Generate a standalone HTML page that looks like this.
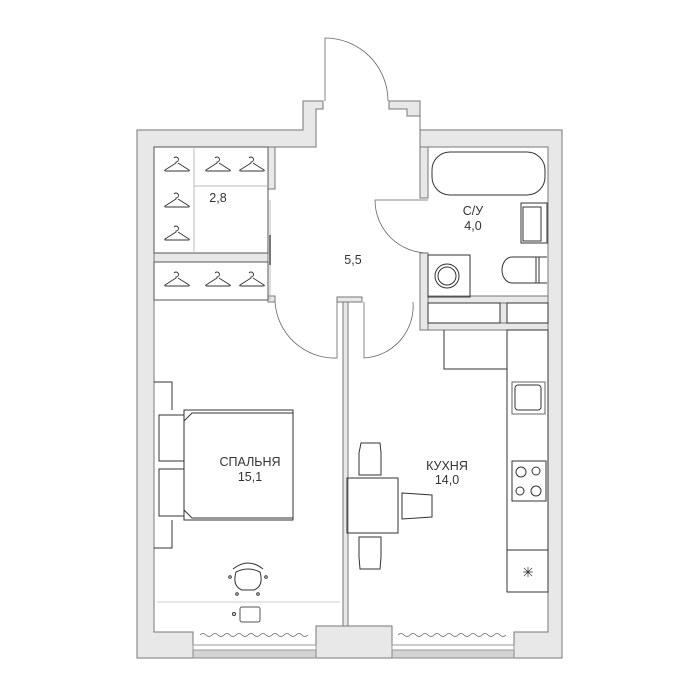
<!DOCTYPE html>
<html><head><meta charset="utf-8"><style>
html,body{margin:0;padding:0;background:#fff;}
svg{display:block;}
text{font-family:"Liberation Sans","DejaVu Sans",sans-serif;font-size:12.5px;fill:#333;text-anchor:middle;}
</style></head><body>
<svg width="700" height="700" viewBox="0 0 700 700" xmlns="http://www.w3.org/2000/svg">
<g fill="#e8e8e8" stroke="#777" stroke-width="1">
<path d="M137,130 H303 V101 H323 V109 H316 V147 H154 V632 H193 V658 H137 Z"/>
<path d="M389,101 H420 V130 H562 V658 H514 V632 H548 V147 H420 V116 H407 V109 H389 Z" />
<rect x="316" y="626" width="76" height="32"/>
<rect x="420" y="147" width="8" height="51"/>
<rect x="420" y="253" width="8" height="77"/>
<rect x="428" y="296" width="120" height="7"/>
<rect x="428" y="323" width="120" height="7"/>
<rect x="500" y="303" width="7" height="20"/>
<rect x="268" y="147" width="7" height="42"/>
<rect x="154" y="253" width="114" height="9"/>
<rect x="268" y="296" width="7" height="6"/>
<rect x="343" y="302" width="5" height="324"/>
<rect x="337" y="297" width="25" height="5"/>
</g>
<g fill="#d4d4d4" stroke="#888" stroke-width="1">
<rect x="193" y="645" width="123" height="13"/>
<rect x="392" y="645" width="122" height="13"/>
</g>
<g fill="#fff" stroke="#999" stroke-width="1">
<rect x="193" y="645" width="123" height="5"/><rect x="392" y="645" width="122" height="5"/>
</g>
<g fill="none" stroke="#666" stroke-width="0.8">
<path d="M200,635 q3,-3 6,0 t6,0 t6,0 t6,0 t6,0 t6,0 t6,0 t6,0 t6,0 t6,0 t6,0 t6,0 t6,0 t6,0 t6,0 t6,0 t6,0 t6,0"/>
<path d="M398,635 q3,-3 6,0 t6,0 t6,0 t6,0 t6,0 t6,0 t6,0 t6,0 t6,0 t6,0 t6,0 t6,0 t6,0 t6,0 t6,0 t6,0 t6,0 t6,0"/>
<path d="M325,101 V38 A63,63 0 0 1 388,101"/>
<path d="M428,200 H375 A53,53 0 0 0 428,253"/>
<path d="M275,302 A60,60 0 0 0 337,358 V302"/>
<path d="M413,302 A52,52 0 0 1 364,358 V302"/>
</g>
<g fill="none" stroke="#333" stroke-width="1">
<rect x="154" y="147" width="114" height="106" stroke="#555"/>
<line x1="194" y1="147" x2="194" y2="253" stroke="#bbb"/>
<line x1="194" y1="186" x2="268" y2="186" stroke="#bbb"/>
<rect x="154" y="262" width="114" height="38" stroke="#555"/>
<line x1="270" y1="235" x2="270" y2="265" stroke="#333" stroke-width="2"/>
<line x1="270" y1="200" x2="270" y2="300" stroke="#bbb"/>
<rect x="432" y="152" width="113" height="43" rx="18"/>
<rect x="521" y="203" width="26" height="40"/>
<rect x="523" y="207" width="18" height="34"/>
<rect x="428" y="255" width="42" height="42"/>
<circle cx="447" cy="276" r="12"/><circle cx="447" cy="276" r="9"/>
<path d="M547,257 H512 a10,13 0 0 0 0,26 H547"/>
<line x1="536" y1="257" x2="536" y2="283"/><line x1="539" y1="257" x2="539" y2="283"/>
<rect x="428" y="303" width="72" height="20"/><rect x="507" y="303" width="41" height="20"/>
<polyline points="444,330 444,369 507,369"/>
<rect x="507" y="330" width="41" height="262"/>
<line x1="507" y1="550" x2="548" y2="550"/>
<rect x="512" y="382" width="33" height="32" stroke="#666"/>
<rect x="515" y="385" width="26" height="25" rx="3"/>
<rect x="512" y="461" width="34" height="40"/>
<circle cx="521" cy="472" r="5"/><circle cx="536" cy="471" r="4"/><circle cx="520" cy="491" r="4"/><circle cx="536" cy="491" r="5"/>
<path d="M523,572 h10 M528,567 v10 M524,568 l8,8 M532,568 l-8,8" stroke-width="0.7"/>
<rect x="347" y="478" width="51" height="55"/>
<path d="M361,443 h19 l1,10 v22 h-22 v-22 z"/>
<path d="M359,537 h22 v20 l-1,12 h-20 l-1,-12 z"/>
<path d="M402,493 l30,2 v22 l-30,2 z"/>
<rect x="184" y="410" width="109" height="110"/>
<path d="M192,413 H293 V518 H192 l-8,-8 V421 z"/>
<rect x="159" y="415" width="25" height="46"/><rect x="159" y="469" width="25" height="47"/>
<polyline points="154,382 172,382 172,410"/>
<polyline points="172,520 172,548 154,548"/>
<path d="M236,572 q-4,14 6,18 h12 q10,-4 6,-18 q-12,-6 -24,0 z"/>
<path d="M233,569 q15,-12 30,0"/>
<circle cx="230" cy="577" r="1.3"/><circle cx="266" cy="577" r="1.3"/><circle cx="237" cy="594" r="1.3"/><circle cx="258" cy="594" r="1.3"/>
<rect x="240" y="607" width="20" height="15" rx="2" stroke="#555"/>
<circle cx="234" cy="614" r="1.5"/>
<line x1="157" y1="602" x2="340" y2="602" stroke="#ccc"/>
</g>
<g fill="none" stroke="#333" stroke-width="0.9">
<path id="h" d="M174,158 a2.5,2.5 0 1 1 2,4 v1 l-11,7 q-1,1 1,1 h22 q2,0 1,-1 l-11,-7"/>
<use href="#h" x="41" y="0"/><use href="#h" x="75" y="0"/>
<use href="#h" x="0" y="36"/><use href="#h" x="0" y="69"/>
<use href="#h" x="0" y="115"/><use href="#h" x="41" y="115"/><use href="#h" x="75" y="115"/>
</g>
<text x="218" y="202">2,8</text>
<text x="353" y="264">5,5</text>
<text x="473" y="215">С/У</text>
<text x="473" y="230">4,0</text>
<text x="250" y="466">СПАЛЬНЯ</text>
<text x="250" y="481">15,1</text>
<text x="447" y="470">КУХНЯ</text>
<text x="447" y="484">14,0</text>
</svg>
</body></html>
